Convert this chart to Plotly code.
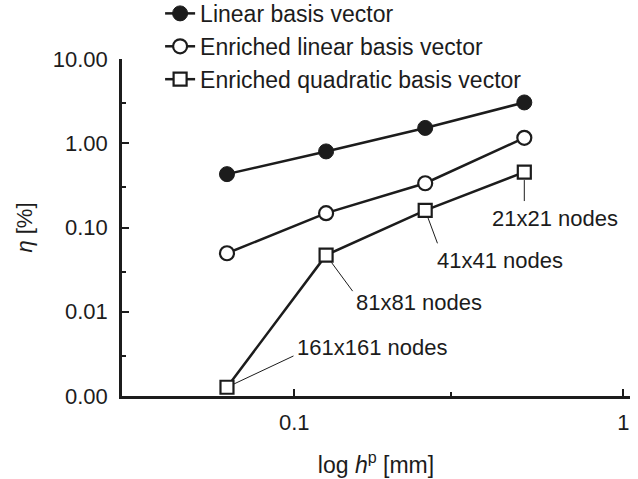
import math
import plotly.graph_objects as go

# Element size h^p [mm] for 21x21, 41x41, 81x81, 161x161 node grids (coarse -> fine)
h_mm = [0.5, 0.25, 0.125, 0.0625]
grid_labels = ["21x21 nodes", "41x41 nodes", "81x81 nodes", "161x161 nodes"]

# Error measure eta [%]
eta_linear = [3.05, 1.52, 0.80, 0.43]
eta_enriched_linear = [1.16, 0.335, 0.148, 0.0495]
eta_enriched_quadratic = [0.455, 0.16, 0.047, 0.00127]

y_tickvals = [0.001, 0.01, 0.1, 1, 10]
y_ticktext = ["0.00", "0.01", "0.10", "1.00", "10.00"]
y_minor = [0.003, 0.03, 0.3, 3]
x_tickvals = [0.1, 1]
x_ticktext = ["0.1", "1"]
x_minor = [0.3]

INK = "#1c1c1c"
FONT = "Liberation Sans, Arial, Helvetica, sans-serif"

fig = go.Figure()
fig.add_trace(go.Scatter(
    x=h_mm, y=eta_linear, mode="lines+markers", name="Linear basis vector",
    line=dict(color=INK, width=2.5),
    marker=dict(symbol="circle", size=15, color=INK, line=dict(color=INK, width=1)),
))
fig.add_trace(go.Scatter(
    x=h_mm, y=eta_enriched_linear, mode="lines+markers", name="Enriched linear basis vector",
    line=dict(color=INK, width=2.5),
    marker=dict(symbol="circle", size=14, color="white", line=dict(color=INK, width=2.2)),
))
fig.add_trace(go.Scatter(
    x=h_mm, y=eta_enriched_quadratic, mode="lines+markers", name="Enriched quadratic basis vector",
    line=dict(color=INK, width=2.5),
    marker=dict(symbol="square", size=13, color="white", line=dict(color=INK, width=2.2)),
))

# Leader line tails (pixels from each quadratic-basis point, y down), gap at the marker,
# and label placement (left edge / vertical centre offsets in pixels)
leader_tails = [(0, 31), (13, 35), (28, 38), (68, -32)]
leader_gaps = [8, 8, 9, 7]
label_offsets = [(-34, 46), (10, 50), (28, 47), (68, -40)]

annotations = []
for xv, yv, lab, (tx, ty), gap, (dx, dy) in zip(
        h_mm, eta_enriched_quadratic, grid_labels, leader_tails, leader_gaps, label_offsets):
    lx, ly = math.log10(xv), math.log10(yv)
    annotations.append(dict(
        x=lx, y=ly, xref="x", yref="y", text=" ", font=dict(size=1),
        showarrow=True, arrowhead=0, arrowwidth=1, arrowcolor=INK,
        ax=tx, ay=ty, axref="pixel", ayref="pixel", standoff=gap,
    ))
    annotations.append(dict(
        x=lx, y=ly, xref="x", yref="y", text=lab, showarrow=False,
        xanchor="left", yanchor="middle", xshift=dx, yshift=-dy,
        font=dict(family=FONT, size=22, color=INK),
    ))

fig.update_layout(
    width=638, height=479,
    margin=dict(l=122, r=8, t=59, b=83, autoexpand=False),
    paper_bgcolor="white", plot_bgcolor="white",
    font=dict(family=FONT, size=22, color=INK),
    showlegend=True,
    legend=dict(
        x=0.075, y=1.199, xanchor="left", yanchor="top",
        bgcolor="rgba(0,0,0,0)", font=dict(family=FONT, size=23, color=INK),
        tracegroupgap=0, itemwidth=30,
    ),
    annotations=annotations,
)

fig.update_xaxes(
    type="log", range=[-1.523, 0.02],
    showgrid=False, zeroline=False,
    showline=True, linecolor=INK, linewidth=2.5,
    ticks="inside", ticklen=7, tickwidth=2, tickcolor=INK,
    tickvals=x_tickvals, ticktext=x_ticktext,
    ticklabelstandoff=5,
    minor=dict(tickvals=x_minor, ticks="inside", ticklen=4, tickwidth=2, tickcolor=INK),
    title=dict(text="log <i>h</i><sup>p</sup> [mm]", standoff=23, font=dict(size=23)),
    tickfont=dict(size=22),
)
fig.update_yaxes(
    type="log", range=[-3, 1],
    showgrid=False, zeroline=False,
    showline=True, linecolor=INK, linewidth=2.5,
    ticks="inside", ticklen=7, tickwidth=2, tickcolor=INK,
    tickvals=y_tickvals, ticktext=y_ticktext,
    ticklabelstandoff=7,
    minor=dict(tickvals=y_minor, ticks="inside", ticklen=4, tickwidth=2, tickcolor=INK),
    title=dict(text="<i>η</i> [%]", standoff=15, font=dict(size=22)),
    tickfont=dict(size=22),
)

fig.write_html("out.html")
